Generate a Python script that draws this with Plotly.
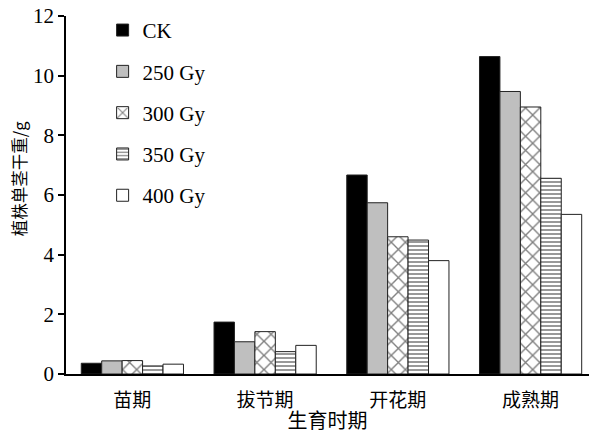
import plotly.graph_objects as go

categories = ["苗期", "拔节期", "开花期", "成熟期"]
series_names = ["CK", "250 Gy", "300 Gy", "350 Gy", "400 Gy"]
ck = [0.36, 1.74, 6.67, 10.64]
gy250 = [0.44, 1.08, 5.74, 9.47]
gy300 = [0.45, 1.42, 4.60, 8.95]
gy350 = [0.27, 0.75, 4.49, 6.56]
gy400 = [0.33, 0.96, 3.80, 5.35]
values = [ck, gy250, gy300, gy350, gy400]
y_ticks = [0, 2, 4, 6, 8, 10, 12]

styles = [
    dict(color="#000000", pattern=dict(shape="")),
    dict(color="#bfbfbf", pattern=dict(shape="")),
    dict(color="#ffffff", pattern=dict(shape="x", fgcolor="#000000", bgcolor="#ffffff", size=10, solidity=0.25, fillmode="overlay")),
    dict(color="#ffffff", pattern=dict(shape="-", fgcolor="#000000", bgcolor="#ffffff", size=4, solidity=0.4, fillmode="overlay")),
    dict(color="#ffffff", pattern=dict(shape="")),
]

FONT = "Liberation Serif, Noto Sans CJK SC, serif"

fig = go.Figure()
for name, vals, st in zip(series_names, values, styles):
    fig.add_trace(go.Bar(
        x=categories, y=vals, name=name, legendgroup=name,
        marker=dict(color=st["color"], pattern=st["pattern"],
                    line=dict(color="#222222", width=1)),
    ))

fig.add_annotation(
    text="植株单茎干重/g", textangle=-90, xref="paper", yref="paper",
    x=-0.0899, y=0.547, xanchor="center", yanchor="middle", showarrow=False,
    font=dict(family="Noto Sans CJK SC", size=16.5, color="#000000"),
)

fig.update_layout(
    width=590, height=434,
    margin=dict(l=66, r=1, t=16, b=60),
    paper_bgcolor="white", plot_bgcolor="white",
    barmode="group", bargap=0.23, bargroupgap=0,
    font=dict(family=FONT, size=17, color="#000000"),
    showlegend=True,
    legend=dict(x=0.07, y=1.017, xanchor="left", yanchor="top",
                bgcolor="rgba(0,0,0,0)", font=dict(family="Liberation Serif", size=21),
                tracegroupgap=11, itemwidth=30),
    xaxis=dict(range=[-0.5, 3.44], showline=True, linecolor="#000000", linewidth=1.5,
               ticks="", showgrid=False, zeroline=False, ticklabelstandoff=8,
               tickfont=dict(family="Noto Sans CJK SC", size=19),
               title=dict(text="生育时期", font=dict(family="Noto Sans CJK SC", size=20), standoff=4)),
    yaxis=dict(range=[0, 12], tickvals=y_ticks, showline=True, linecolor="#000000", linewidth=1.5,
               ticks="outside", ticklen=6, tickwidth=1.5, tickcolor="#000000",
               showgrid=False, zeroline=False,
               tickfont=dict(family="Liberation Serif", size=21)),
)

fig.write_html("out.html")
